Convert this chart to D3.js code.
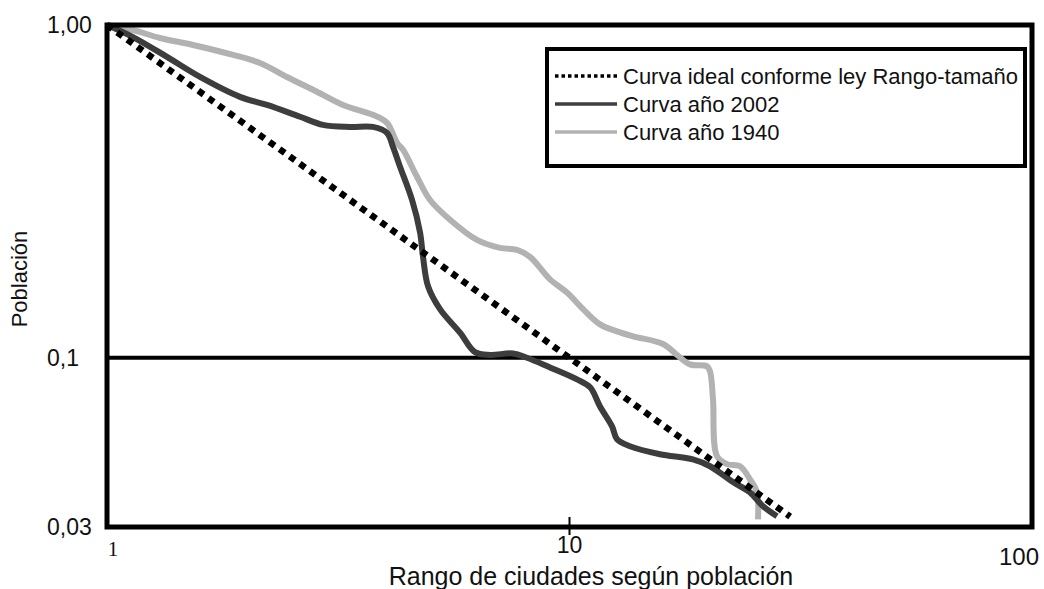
<!DOCTYPE html>
<html>
<head>
<meta charset="utf-8">
<script src="https://cdn.jsdelivr.net/npm/d3@7"></script>
<style>
  body { margin: 0; background: #fff; }
  text { font-family: "Liberation Sans", Arial, sans-serif; fill: #111; }
</style>
</head>
<body>
<div id="chart"></div>
<script>
// data (rank, relative population)
const idealRank = [1, 30];
const idealPop = [1, 0.0333];

const rank2002 = [1, 1.138, 1.348, 1.589, 1.939, 2.218, 2.615, 2.931, 3.354, 3.759, 4.031, 4.153, 4.301, 4.566, 4.752, 4.823, 4.945, 5.248, 5.797, 6.247, 6.732, 7.548, 8.092, 9.075, 10.38, 11.08, 11.64, 12.36, 12.67, 13.51, 15.69, 18.49, 20.13, 22.57, 24.56, 26.21, 28.10];
const pop2002 = [1, 0.920, 0.802, 0.698, 0.608, 0.575, 0.530, 0.501, 0.494, 0.494, 0.474, 0.430, 0.375, 0.298, 0.238, 0.201, 0.164, 0.140, 0.119, 0.104, 0.102, 0.103, 0.100, 0.0935, 0.0861, 0.0815, 0.0714, 0.0622, 0.0569, 0.0542, 0.0513, 0.0495, 0.0472, 0.0423, 0.0394, 0.0358, 0.0334];

const rank1940 = [1, 1.138, 1.302, 1.535, 1.873, 2.142, 2.450, 2.844, 3.238, 3.759, 4.031, 4.236, 4.365, 4.680, 4.994, 5.516, 6.31, 7.073, 7.700, 8.215, 9.075, 9.876, 10.70, 11.64, 12.67, 13.72, 15.93, 17.08, 18.22, 19.83, 20.13, 20.43, 20.84, 21.90, 23.37, 24.56, 25.43, 25.56];
const pop1940 = [1, 0.966, 0.914, 0.871, 0.813, 0.769, 0.698, 0.630, 0.575, 0.537, 0.508, 0.443, 0.422, 0.350, 0.298, 0.260, 0.226, 0.214, 0.211, 0.201, 0.172, 0.157, 0.140, 0.126, 0.120, 0.116, 0.110, 0.102, 0.0955, 0.0942, 0.0910, 0.0750, 0.0506, 0.0479, 0.0472, 0.0431, 0.0394, 0.0327];

const xTicks = [1, 10, 100];
const xTickLabels = ["1", "10", "100"];
const yTicks = [1, 0.1, 0.031];
const yTickLabels = ["1,00", "0,1", "0,03"];

const legendNames = ["Curva ideal conforme ley Rango-tamaño", "Curva año 2002", "Curva año 1940"];

const width = 1044, height = 589;
const margin = {top: 25, right: 12, bottom: 62, left: 107};

const svg = d3.select("#chart").append("svg")
    .attr("width", width)
    .attr("height", height);

const x = d3.scaleLog().domain([1, 100]).range([margin.left, width - margin.right]);
const y = d3.scaleLog().domain([0.031, 1]).range([height - margin.bottom, margin.top]);

const line = d3.line()
    .x(d => x(d[0]))
    .y(d => y(d[1]))
    .curve(d3.curveCatmullRom.alpha(0.5));

const series = [
    {name: legendNames[0], pts: d3.zip(idealRank, idealPop), color: "#000", width: 6.5, dash: "6.5,6"},
    {name: legendNames[1], pts: d3.zip(rank2002, pop2002), color: "#3d3d3d", width: 6, dash: null},
    {name: legendNames[2], pts: d3.zip(rank1940, pop1940), color: "#b2b2b2", width: 6, dash: null}
];

// horizontal reference line at 0,1
svg.append("line")
    .attr("x1", x(1)).attr("x2", x(100))
    .attr("y1", y(0.1)).attr("y2", y(0.1))
    .attr("stroke", "#000").attr("stroke-width", 4);

// curves (light first, then dark, ideal on top)
svg.selectAll(".curve")
    .data([series[2], series[1], series[0]])
    .enter().append("path")
    .attr("class", "curve")
    .attr("d", d => line(d.pts))
    .attr("fill", "none")
    .attr("stroke", d => d.color)
    .attr("stroke-width", d => d.width)
    .attr("stroke-linejoin", "round")
    .attr("stroke-dasharray", d => d.dash);

// frame
svg.append("rect")
    .attr("x", x(1)).attr("y", y(1))
    .attr("width", x(100) - x(1))
    .attr("height", y(0.031) - y(1))
    .attr("fill", "none")
    .attr("stroke", "#000")
    .attr("stroke-width", 5);

// x tick at 10
svg.append("line")
    .attr("x1", x(10)).attr("x2", x(10))
    .attr("y1", y(0.031) - 10).attr("y2", y(0.031) + 8)
    .attr("stroke", "#000").attr("stroke-width", 2);

const xLabPos = [{dx: 6, y: 556, size: 21}, {dx: 0, y: 553, size: 23}, {dx: -13, y: 565, size: 24}];

svg.selectAll(".xlab")
    .data(xTicks)
    .enter().append("text")
    .attr("class", "xlab")
    .attr("x", (d, i) => x(d) + xLabPos[i].dx)
    .attr("y", (d, i) => xLabPos[i].y)
    .attr("text-anchor", "middle")
    .style("font-family", (d, i) => i == 0 ? "'Liberation Serif', serif" : null)
    .style("font-size", (d, i) => xLabPos[i].size + "px")
    .text((d, i) => xTickLabels[i]);

// y labels
svg.selectAll(".ylab")
    .data(yTicks)
    .enter().append("text")
    .attr("class", "ylab")
    .attr("x", 47)
    .attr("y", d => y(d) + 8)
    .style("font-size", "23px")
    .text((d, i) => yTickLabels[i]);

// axis titles
svg.append("text")
    .attr("x", 591).attr("y", 585)
    .attr("text-anchor", "middle")
    .style("font-size", "25px")
    .text("Rango de ciudades según población");

svg.append("text")
    .attr("transform", "translate(27,279) rotate(-90)")
    .attr("text-anchor", "middle")
    .style("font-size", "22px")
    .text("Población");

// legend
const legend = svg.append("g").attr("transform", "translate(547,49)");
legend.append("rect")
    .attr("width", 478).attr("height", 117)
    .attr("fill", "#fff")
    .attr("stroke", "#000")
    .attr("stroke-width", 4);

const item = legend.selectAll(".item")
    .data(series)
    .enter().append("g")
    .attr("class", "item")
    .attr("transform", (d, i) => "translate(0," + (27 + i * 28) + ")");

item.append("line")
    .attr("x1", 8).attr("x2", 70)
    .attr("stroke", d => d.color)
    .attr("stroke-width", 3.5)
    .attr("stroke-dasharray", (d, i) => i == 0 ? "3.5,3" : null);

item.append("text")
    .attr("x", 76)
    .attr("y", 8)
    .style("font-size", "22px")
    .text(d => d.name);
</script>
</body>
</html>
